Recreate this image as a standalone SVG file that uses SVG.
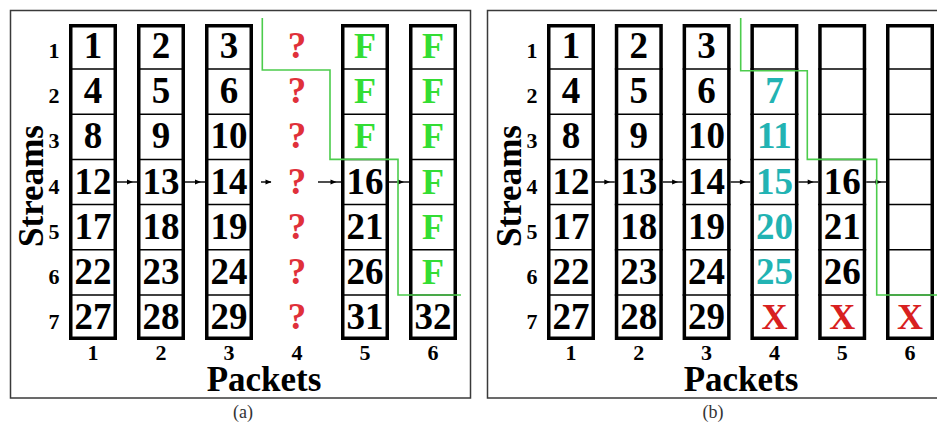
<svg xmlns="http://www.w3.org/2000/svg" width="937" height="443" viewBox="0 0 937 443">
<style>
.frame{fill:none;stroke:#3a3a3a;stroke-width:1.5}
.box{fill:#fff;stroke:#000;stroke-width:3.5}
.sep{stroke:#000;stroke-width:1.5}
.t{font-family:"Liberation Serif","Times New Roman",serif;font-weight:bold;text-anchor:middle}
.cell{font-size:37px;fill:#000}
.q{font-size:37px;fill:#e0303a}
.f{font-size:36px;fill:#33dd33}
.c{font-size:37px;fill:#22b3b3}
.x{font-size:36px;fill:#d82020}
.lbl{font-size:22px;fill:#000}
.axis{font-size:35px;fill:#000}
.cap{font-family:"Liberation Serif","Times New Roman",serif;font-size:18px;fill:#333;text-anchor:middle}
.green{fill:none;stroke:#4ccc4c;stroke-width:1.6}
.conn line{stroke:#000;stroke-width:1.4}
.conn polygon{fill:#000}
</style>
<defs>
<g id="col">
<rect class="box" x="1.75" y="25.75" width="44.5" height="312.5"/>
<line class="sep" x1="0" y1="69.1" x2="48" y2="69.1"/>
<line class="sep" x1="0" y1="114.3" x2="48" y2="114.3"/>
<line class="sep" x1="0" y1="159.4" x2="48" y2="159.4"/>
<line class="sep" x1="0" y1="204.6" x2="48" y2="204.6"/>
<line class="sep" x1="0" y1="249.7" x2="48" y2="249.7"/>
<line class="sep" x1="0" y1="294.9" x2="48" y2="294.9"/>
</g>
</defs>
<rect class="frame" x="10.5" y="10.5" width="460" height="387.5"/>
<rect class="frame" x="487.5" y="10.5" width="460" height="387.5"/>

<!-- Panel (a) -->
<g id="a-labels">
<text class="t lbl" x="54" y="58">1</text>
<text class="t lbl" x="54" y="103">2</text>
<text class="t lbl" x="54" y="148">3</text>
<text class="t lbl" x="54" y="193.5">4</text>
<text class="t lbl" x="54" y="238.5">5</text>
<text class="t lbl" x="54" y="284">6</text>
<text class="t lbl" x="54" y="329">7</text>
<text class="t lbl" x="93" y="360">1</text>
<text class="t lbl" x="161" y="360">2</text>
<text class="t lbl" x="229" y="360">3</text>
<text class="t lbl" x="297" y="360">4</text>
<text class="t lbl" x="365" y="360">5</text>
<text class="t lbl" x="433" y="360">6</text>
<text class="t axis" x="264" y="391">Packets</text>
<text class="t axis" transform="translate(43,186) rotate(-90)">Streams</text>
</g>
<g id="a-col1" transform="translate(69,0)">
<use href="#col"/>
<text class="t cell" x="24" y="58">1</text><text class="t cell" x="24" y="103">4</text><text class="t cell" x="24" y="148">8</text><text class="t cell" x="24" y="193.5">12</text><text class="t cell" x="24" y="238.5">17</text><text class="t cell" x="24" y="284">22</text><text class="t cell" x="24" y="329">27</text>
</g>
<g id="a-col2" transform="translate(137,0)">
<use href="#col"/>
<text class="t cell" x="24" y="58">2</text><text class="t cell" x="24" y="103">5</text><text class="t cell" x="24" y="148">9</text><text class="t cell" x="24" y="193.5">13</text><text class="t cell" x="24" y="238.5">18</text><text class="t cell" x="24" y="284">23</text><text class="t cell" x="24" y="329">28</text>
</g>
<g id="a-col3" transform="translate(205,0)">
<use href="#col"/>
<text class="t cell" x="24" y="58">3</text><text class="t cell" x="24" y="103">6</text><text class="t cell" x="24" y="148">10</text><text class="t cell" x="24" y="193.5">14</text><text class="t cell" x="24" y="238.5">19</text><text class="t cell" x="24" y="284">24</text><text class="t cell" x="24" y="329">29</text>
</g>
<g id="a-col4" transform="translate(273,0)">
<text class="t q" x="24" y="58">?</text><text class="t q" x="24" y="103">?</text><text class="t q" x="24" y="148">?</text><text class="t q" x="24" y="193.5">?</text><text class="t q" x="24" y="238.5">?</text><text class="t q" x="24" y="284">?</text><text class="t q" x="24" y="329">?</text>
</g>
<g id="a-col5" transform="translate(341,0)">
<use href="#col"/>
<text class="t f" x="24" y="58">F</text><text class="t f" x="24" y="103">F</text><text class="t f" x="24" y="148">F</text><text class="t cell" x="24" y="193.5">16</text><text class="t cell" x="24" y="238.5">21</text><text class="t cell" x="24" y="284">26</text><text class="t cell" x="24" y="329">31</text>
</g>
<g id="a-col6" transform="translate(409,0)">
<use href="#col"/>
<text class="t f" x="24" y="58">F</text><text class="t f" x="24" y="103">F</text><text class="t f" x="24" y="148">F</text><text class="t f" x="24" y="193.5">F</text><text class="t f" x="24" y="238.5">F</text><text class="t f" x="24" y="284">F</text><text class="t cell" x="24" y="329">32</text>
</g>

<!-- Panel (b) -->
<g id="b-labels">
<text class="t lbl" x="532" y="58">1</text>
<text class="t lbl" x="532" y="103">2</text>
<text class="t lbl" x="532" y="148">3</text>
<text class="t lbl" x="532" y="193.5">4</text>
<text class="t lbl" x="532" y="238.5">5</text>
<text class="t lbl" x="532" y="284">6</text>
<text class="t lbl" x="532" y="329">7</text>
<text class="t lbl" x="571" y="360">1</text>
<text class="t lbl" x="638.8" y="360">2</text>
<text class="t lbl" x="706.6" y="360">3</text>
<text class="t lbl" x="774.4" y="360">4</text>
<text class="t lbl" x="842.2" y="360">5</text>
<text class="t lbl" x="910" y="360">6</text>
<text class="t axis" x="741" y="391">Packets</text>
<text class="t axis" transform="translate(521,186) rotate(-90)">Streams</text>
</g>
<g id="b-col1" transform="translate(547,0)">
<use href="#col"/>
<text class="t cell" x="24" y="58">1</text><text class="t cell" x="24" y="103">4</text><text class="t cell" x="24" y="148">8</text><text class="t cell" x="24" y="193.5">12</text><text class="t cell" x="24" y="238.5">17</text><text class="t cell" x="24" y="284">22</text><text class="t cell" x="24" y="329">27</text>
</g>
<g id="b-col2" transform="translate(614.8,0)">
<use href="#col"/>
<text class="t cell" x="24" y="58">2</text><text class="t cell" x="24" y="103">5</text><text class="t cell" x="24" y="148">9</text><text class="t cell" x="24" y="193.5">13</text><text class="t cell" x="24" y="238.5">18</text><text class="t cell" x="24" y="284">23</text><text class="t cell" x="24" y="329">28</text>
</g>
<g id="b-col3" transform="translate(682.6,0)">
<use href="#col"/>
<text class="t cell" x="24" y="58">3</text><text class="t cell" x="24" y="103">6</text><text class="t cell" x="24" y="148">10</text><text class="t cell" x="24" y="193.5">14</text><text class="t cell" x="24" y="238.5">19</text><text class="t cell" x="24" y="284">24</text><text class="t cell" x="24" y="329">29</text>
</g>
<g id="b-col4" transform="translate(750.4,0)">
<use href="#col"/>
<text class="t c" x="24" y="103">7</text><text class="t c" x="24" y="148">11</text><text class="t c" x="24" y="193.5">15</text><text class="t c" x="24" y="238.5">20</text><text class="t c" x="24" y="284">25</text><text class="t x" x="24" y="329">X</text>
</g>
<g id="b-col5" transform="translate(818.2,0)">
<use href="#col"/>
<text class="t cell" x="24" y="193.5">16</text><text class="t cell" x="24" y="238.5">21</text><text class="t cell" x="24" y="284">26</text><text class="t x" x="24" y="329">X</text>
</g>
<g id="b-col6" transform="translate(886,0)">
<use href="#col"/>
<text class="t x" x="24" y="329">X</text>
</g>

<g id="connectors" class="conn">
<line x1="117" y1="182" x2="137" y2="182"/><polygon points="133,182 127,179.5 127,184.5"/>
<line x1="185" y1="182" x2="205" y2="182"/><polygon points="201,182 195,179.5 195,184.5"/>
<line x1="261" y1="182" x2="271" y2="182"/><polygon points="271.5,182 265.5,179.5 265.5,184.5"/>
<line x1="318" y1="182" x2="341" y2="182"/><polygon points="336.5,182 330.5,179.5 330.5,184.5"/>
<line x1="389" y1="182" x2="409" y2="182"/><polygon points="404,182 398,179.5 398,184.5"/>
<line x1="595" y1="182" x2="614.8" y2="182"/><polygon points="610.3,182 604.3,179.5 604.3,184.5"/>
<line x1="662.8" y1="182" x2="682.6" y2="182"/><polygon points="678.1,182 672.1,179.5 672.1,184.5"/>
<line x1="730.6" y1="182" x2="750.4" y2="182"/><polygon points="745.9,182 739.9,179.5 739.9,184.5"/>
<line x1="798.4" y1="182" x2="818.2" y2="182"/><polygon points="813.7,182 807.7,179.5 807.7,184.5"/>
<line x1="866.2" y1="182" x2="886" y2="182"/><polygon points="881.5,182 875.5,179.5 875.5,184.5"/>
</g>

<g id="boundaries">
<polyline class="green" points="262.3,18 262.3,70 330,70 330,159.4 398,159.4 398,295 461,295"/>
<polyline class="green" points="740.7,18 740.7,70.7 807.3,70.7 807.3,159.4 876.7,159.4 876.7,295 937,295"/>
</g>

<text class="cap" x="243" y="418">(a)</text>
<text class="cap" x="713" y="418">(b)</text>
</svg>
